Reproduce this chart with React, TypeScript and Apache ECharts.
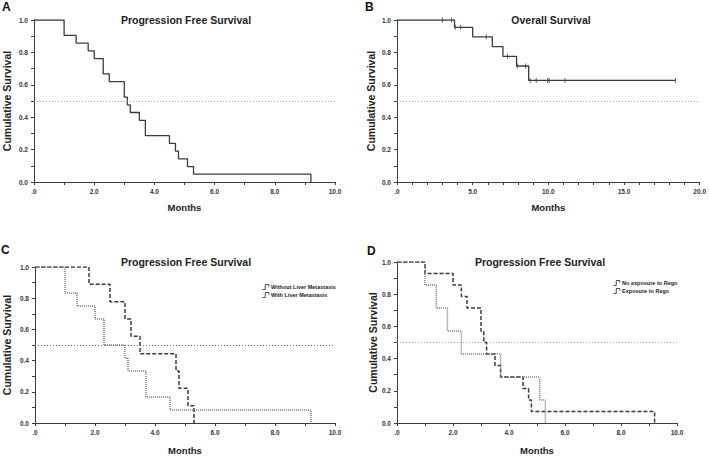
import React, { useEffect, useRef } from "react";
import * as echarts from "echarts";

// Panel A – Progression Free Survival (all patients)
const pfsAllX = [0, 1.0, 1.4, 1.8, 2.0, 2.3, 2.5, 3.0, 3.1, 3.2, 3.5, 3.7, 4.5, 4.7, 4.8, 5.1, 5.3, 9.2];
const pfsAllY = [1, 0.905, 0.857, 0.81, 0.762, 0.667, 0.619, 0.524, 0.476, 0.429, 0.381, 0.286, 0.238, 0.19, 0.143, 0.095, 0.048, 0];

// Panel B – Overall Survival
const osX = [0, 3.8, 5.0, 6.3, 7.0, 7.9, 8.7, 18.4];
const osY = [1, 0.955, 0.896, 0.836, 0.776, 0.716, 0.627, 0.627];
const osCensorX = [3.0, 3.6, 3.85, 4.2, 5.9, 7.3, 7.95, 8.5, 8.8, 9.2, 9.95, 10.05, 11.1, 18.4];
const osCensorY = [1, 1, 0.955, 0.955, 0.896, 0.776, 0.716, 0.716, 0.627, 0.627, 0.627, 0.627, 0.627, 0.627];

// Panel C – by liver metastasis
const withoutLiverX = [0, 1.8, 2.5, 3.0, 3.2, 3.5, 4.7, 4.8, 5.1, 5.3];
const withoutLiverY = [1, 0.889, 0.778, 0.667, 0.556, 0.444, 0.333, 0.222, 0.111, 0];
const withLiverX = [0, 1.0, 1.4, 2.0, 2.3, 3.0, 3.1, 3.7, 4.5, 9.2];
const withLiverY = [1, 0.833, 0.75, 0.667, 0.5, 0.417, 0.333, 0.167, 0.083, 0];

// Panel D – by exposure to Rego
const noRegoX = [0, 1.0, 2.0, 2.3, 2.5, 3.0, 3.1, 3.2, 3.5, 3.7, 4.5, 4.7, 4.8, 9.2];
const noRegoY = [1, 0.929, 0.857, 0.786, 0.714, 0.571, 0.5, 0.429, 0.357, 0.286, 0.214, 0.143, 0.071, 0];
const regoX = [0, 1.0, 1.4, 1.8, 2.3, 3.7, 5.1, 5.3];
const regoY = [1, 0.857, 0.714, 0.571, 0.429, 0.286, 0.143, 0];

const panelTitles = ["Progression Free Survival", "Overall Survival", "Progression Free Survival", "Progression Free Survival"];
const panelLetters = ["A", "B", "C", "D"];
const xMaxes = [10, 20, 10, 10];
const xLabelSteps = [2, 5, 2, 2];
const legendC = ["Without Liver Metastasis", "With Liver Metastasis"];
const legendD = ["No exposure to Rego", "Exposure to Rego"];

const FONT = "'Liberation Sans', Arial, sans-serif";
const INK = "#33403b";

const zip = (xs: number[], ys: number[]) => xs.map((x, i) => [x, ys[i]]);

export default function App() {
  const ref = useRef<HTMLDivElement>(null);
  useEffect(() => {
    if (!ref.current) return;
    const chart = echarts.init(ref.current, undefined, { renderer: "svg" });

    const grids = [
      { left: 32, top: 20, width: 303, height: 162 },
      { left: 397, top: 20, width: 305, height: 162 },
      { left: 32, top: 267, width: 303, height: 158 },
      { left: 397, top: 262, width: 280, height: 163 },
    ];
    const titlePos = [
      [186, 14],
      [551, 14],
      [186, 256],
      [540, 256],
    ];
    const letterPos = [
      [2, 1],
      [365, 1],
      [1, 244],
      [367, 245],
    ];
    const yNameGaps = [22, 21, 23, 19];
    const xNameGaps = [20, 20, 22, 22];

    const xAxis = grids.map((_, i) => ({
      type: "value",
      gridIndex: i,
      min: 0,
      max: xMaxes[i],
      interval: 1,
      name: "Months",
      nameLocation: "middle",
      nameGap: xNameGaps[i],
      nameTextStyle: { fontFamily: FONT, fontWeight: "bold", fontSize: 9.5, color: "#222" },
      axisLine: { lineStyle: { color: INK, width: 1 } },
      axisTick: { show: true, length: 3, lineStyle: { color: INK } },
      splitLine: { show: false },
      axisLabel: {
        margin: 6,
        fontFamily: FONT,
        fontWeight: "bold",
        fontSize: 6.5,
        color: "#333",
        formatter: (v: number) => {
          const r = Math.round(v);
          if (r % xLabelSteps[i] !== 0) return "";
          return r === 0 ? ".0" : r.toFixed(1);
        },
      },
    }));

    const yAxis = grids.map((_, i) => ({
      type: "value",
      gridIndex: i,
      min: 0,
      max: 1,
      interval: 0.1,
      name: "Cumulative Survival",
      nameLocation: "middle",
      nameGap: yNameGaps[i],
      nameTextStyle: { fontFamily: FONT, fontWeight: "bold", fontSize: 10.5, color: "#222" },
      axisLine: { show: true, lineStyle: { color: INK, width: 1 } },
      axisTick: { show: true, length: 3, lineStyle: { color: INK } },
      splitLine: { show: false },
      axisLabel: {
        margin: 6,
        fontFamily: FONT,
        fontWeight: "bold",
        fontSize: 6.5,
        color: "#333",
        formatter: (v: number) => {
          const r = Math.round(v * 10);
          if (r % 2 !== 0) return "";
          return (r / 10).toFixed(1);
        },
      },
    }));

    const refLine = (color: string) => ({
      silent: true,
      symbol: "none",
      label: { show: false },
      lineStyle: { type: [1, 2], color, width: 0.8 },
      data: [{ yAxis: 0.5 }],
    });

    const series: any[] = [
      {
        name: "PFS",
        type: "line",
        step: "end",
        xAxisIndex: 0,
        yAxisIndex: 0,
        data: zip(pfsAllX, pfsAllY),
        showSymbol: false,
        lineStyle: { color: INK, width: 1.3 },
        markLine: refLine("#7f9a92"),
      },
      {
        name: "OS",
        type: "line",
        step: "end",
        xAxisIndex: 1,
        yAxisIndex: 1,
        data: zip(osX, osY),
        showSymbol: false,
        lineStyle: { color: INK, width: 1.3 },
        markLine: refLine("#7f9a92"),
      },
      {
        name: "OS censored",
        type: "scatter",
        xAxisIndex: 1,
        yAxisIndex: 1,
        data: zip(osCensorX, osCensorY),
        symbol: "rect",
        symbolSize: [1, 5],
        itemStyle: { color: INK },
      },
      {
        name: legendC[0],
        type: "line",
        step: "end",
        xAxisIndex: 2,
        yAxisIndex: 2,
        data: zip(withoutLiverX, withoutLiverY),
        showSymbol: false,
        itemStyle: { color: "#3a3a3a" },
        lineStyle: { color: "#3a3a3a", width: 1.5, type: [4, 2] },
        markLine: refLine("#444"),
      },
      {
        name: legendC[1],
        type: "line",
        step: "end",
        xAxisIndex: 2,
        yAxisIndex: 2,
        data: zip(withLiverX, withLiverY),
        showSymbol: false,
        itemStyle: { color: "#7a7a7a" },
        lineStyle: { color: "#7a7a7a", width: 1.5, type: [1, 1] },
      },
      {
        name: legendD[0],
        type: "line",
        step: "end",
        xAxisIndex: 3,
        yAxisIndex: 3,
        data: zip(noRegoX, noRegoY),
        showSymbol: false,
        itemStyle: { color: "#3a3a3a" },
        lineStyle: { color: "#3a3a3a", width: 1.5, type: [4, 2] },
        markLine: refLine("#7f9a92"),
      },
      {
        name: legendD[1],
        type: "line",
        step: "end",
        xAxisIndex: 3,
        yAxisIndex: 3,
        data: zip(regoX, regoY),
        showSymbol: false,
        itemStyle: { color: "#7a7a7a" },
        lineStyle: { color: "#7a7a7a", width: 1.5, type: [1, 1] },
      },
    ];

    const stepIcon = "path://M0,8 L4,8 L4,1 L9,1 L9,4";
    const legendCommon = {
      orient: "vertical",
      icon: stepIcon,
      itemWidth: 9,
      itemHeight: 5,
      itemGap: 2,
      selectedMode: false,
      itemStyle: { color: "rgba(0,0,0,0)", borderColor: "#222", borderWidth: 0.8 },
      lineStyle: { opacity: 0, width: 0 },
      textStyle: { fontFamily: FONT, fontWeight: "bold", fontSize: 5.5, color: "#222", padding: [0, 0, 0, -4] },
    };

    chart.setOption({
      animation: false,
      backgroundColor: "#ffffff",
      grid: grids,
      xAxis,
      yAxis,
      title: panelTitles.map((t, i) => ({
        text: t,
        left: titlePos[i][0],
        top: titlePos[i][1],
        textAlign: "center",
        padding: 0,
        textStyle: { fontFamily: FONT, fontWeight: "bold", fontSize: 10.5, color: "#222" },
      })),
      legend: [
        { ...legendCommon, data: legendC, left: 257, top: 279 },
        { ...legendCommon, data: legendD, left: 608, top: 275 },
      ],
      graphic: panelLetters.map((l, i) => ({
        type: "text",
        left: letterPos[i][0],
        top: letterPos[i][1],
        style: { text: l, fontFamily: FONT, fontWeight: "bold", fontSize: 12, fill: "#111" },
      })),
      series,
    });
    return () => chart.dispose();
  }, []);
  return (
    <div
      ref={ref}
      style={{ position: "fixed", left: 0, top: 0, width: 709, height: 456, background: "#fff" }}
    />
  );
}
